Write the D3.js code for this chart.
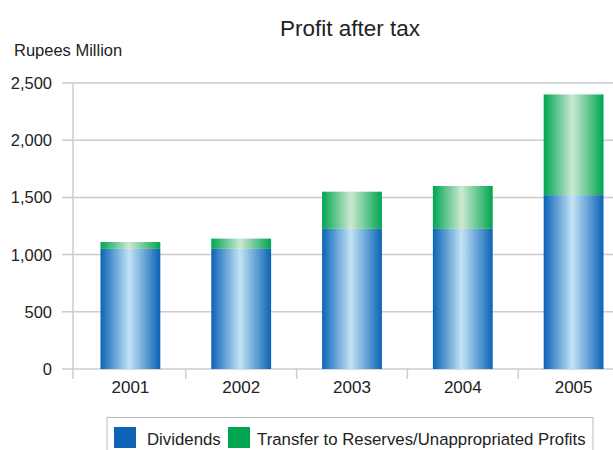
<!DOCTYPE html>
<html lang="en">
<head>
    <meta charset="UTF-8">
    <title>Profit after tax</title>
    <script src="https://d3js.org/d3.v7.min.js"></script>
    <style>
        body { margin: 0; background: #fff; }
        svg { font-family: "Liberation Sans", Arial, sans-serif; display: block; }
    </style>
</head>
<body>
    <svg id="chart" width="613" height="450"></svg>

    <script>
        // Chart data (Rupees Million)
        const years = ["2001", "2002", "2003", "2004", "2005"];
        const dividends = [1050, 1050, 1225, 1225, 1520];
        const transfers = [60, 90, 325, 375, 880];
        const yTicks = [0, 500, 1000, 1500, 2000, 2500];
        const seriesNames = ["Dividends", "Transfer to Reserves/Unappropriated Profits"];

        const svg = d3.select("#chart");

        const x = d3.scaleBand()
            .domain(years)
            .range([75, 629])
            .paddingInner(0.46)
            .paddingOuter(0.23);

        const y = d3.scaleLinear()
            .domain([0, 2500])
            .range([369, 83]);

        // Gradients for the cylinder-like bars
        const defs = svg.append("defs");
        function addGradient(id, edge, mid) {
            const g = defs.append("linearGradient")
                .attr("id", id)
                .attr("x1", "0%").attr("x2", "100%")
                .attr("y1", "0%").attr("y2", "0%");
            g.append("stop").attr("offset", "0%").attr("stop-color", edge);
            g.append("stop").attr("offset", "48%").attr("stop-color", mid);
            g.append("stop").attr("offset", "100%").attr("stop-color", edge);
        }
        addGradient("gradBlue", "#0b63b6", "#c3e3f6");
        addGradient("gradGreen", "#00a651", "#cce8d2");

        // Horizontal grid lines
        svg.append("g")
            .selectAll("line")
            .data(yTicks)
            .enter()
            .append("line")
            .attr("x1", 62)
            .attr("x2", 613)
            .attr("y1", d => y(d))
            .attr("y2", d => y(d))
            .attr("stroke", "#cccccc")
            .attr("stroke-width", 1.5);

        // Y axis labels
        svg.append("g")
            .selectAll("text")
            .data(yTicks)
            .enter()
            .append("text")
            .attr("x", 52)
            .attr("y", d => y(d))
            .attr("dy", "0.36em")
            .attr("text-anchor", "end")
            .attr("font-size", 16.5)
            .attr("fill", "#222")
            .text(d => d3.format(",")(d));

        // Y axis line
        svg.append("line")
            .attr("x1", 73).attr("x2", 73)
            .attr("y1", y(2500)).attr("y2", 379)
            .attr("stroke", "#cccccc")
            .attr("stroke-width", 1.5);

        // X axis ticks between categories
        const step = x.step();
        const gap = step * x.paddingInner();
        svg.append("g")
            .selectAll("line")
            .data(years.slice(1))
            .enter()
            .append("line")
            .attr("x1", d => x(d) - gap / 2)
            .attr("x2", d => x(d) - gap / 2)
            .attr("y1", 369)
            .attr("y2", 379)
            .attr("stroke", "#cccccc")
            .attr("stroke-width", 1.5);

        // X labels
        svg.append("g")
            .selectAll("text")
            .data(years)
            .enter()
            .append("text")
            .attr("x", d => x(d) + x.bandwidth() / 2)
            .attr("y", 393)
            .attr("text-anchor", "middle")
            .attr("font-size", 17)
            .attr("fill", "#222")
            .text(d => d);

        // Dividend bars
        svg.append("g")
            .selectAll("rect")
            .data(years)
            .enter()
            .append("rect")
            .attr("x", d => x(d))
            .attr("width", x.bandwidth())
            .attr("y", (d, i) => y(dividends[i]))
            .attr("height", (d, i) => y(0) - y(dividends[i]))
            .attr("fill", "url(#gradBlue)");

        // Transfer bars stacked on top
        svg.append("g")
            .selectAll("rect")
            .data(years)
            .enter()
            .append("rect")
            .attr("x", d => x(d))
            .attr("width", x.bandwidth())
            .attr("y", (d, i) => y(dividends[i] + transfers[i]))
            .attr("height", (d, i) => y(dividends[i]) - y(dividends[i] + transfers[i]))
            .attr("fill", "url(#gradGreen)");

        // Titles
        svg.append("text")
            .attr("x", 350)
            .attr("y", 36)
            .attr("text-anchor", "middle")
            .attr("font-size", 22.5)
            .attr("fill", "#222")
            .text("Profit after tax");

        svg.append("text")
            .attr("x", 14)
            .attr("y", 56)
            .attr("font-size", 16.5)
            .attr("fill", "#222")
            .text("Rupees Million");

        // Legend
        const legend = svg.append("g");
        legend.append("rect")
            .attr("x", 107).attr("y", 417.5)
            .attr("width", 486).attr("height", 40)
            .attr("fill", "none")
            .attr("stroke", "#bbbbbb")
            .attr("stroke-width", 1);

        const legendColors = ["#0f62b5", "#00a651"];
        const legendX = [114, 228];
        const legendTextX = [147, 257];
        seriesNames.forEach((name, i) => {
            legend.append("rect")
                .attr("x", legendX[i]).attr("y", 427)
                .attr("width", 22).attr("height", 21)
                .attr("fill", legendColors[i]);
            legend.append("text")
                .attr("x", legendTextX[i])
                .attr("y", 445)
                .attr("font-size", 16.8)
                .attr("fill", "#222")
                .text(name);
        });
    </script>
</body>
</html>
